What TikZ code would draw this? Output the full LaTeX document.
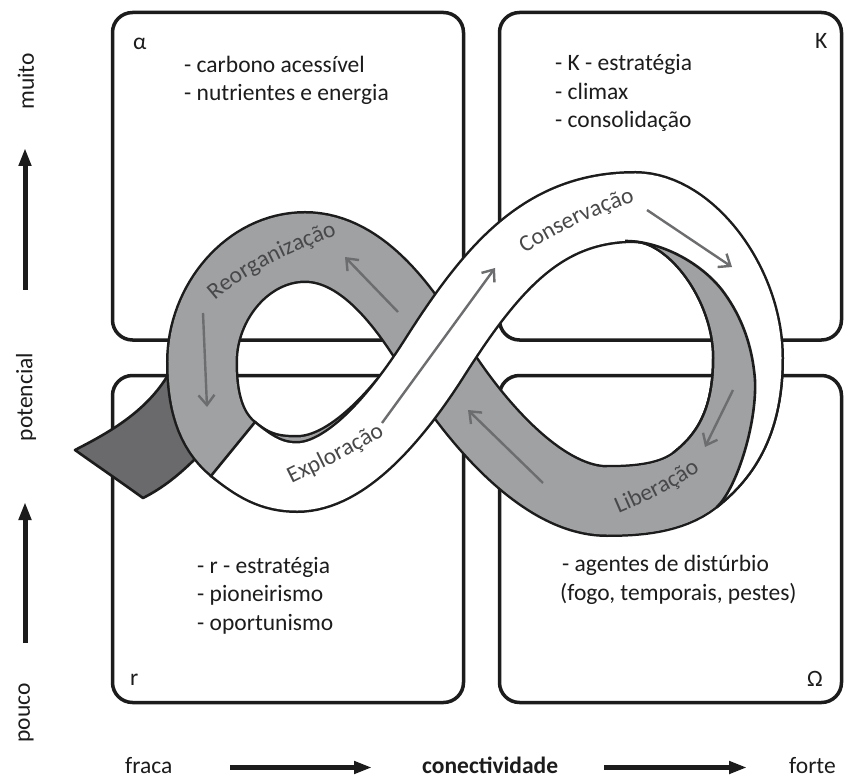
\documentclass[tikz,border=0pt]{standalone}
\usepackage{fontspec}
\setmainfont{Carlito}
\usetikzlibrary{arrows.meta,decorations.text}
\definecolor{inkblack}{RGB}{28,28,28}
\definecolor{bandgray}{RGB}{160,161,163}
\definecolor{tailgray}{RGB}{106,106,108}
\definecolor{arrowgray}{RGB}{108,109,111}
\definecolor{bandtext}{RGB}{72,72,74}
\newcommand\txtfont{\fontsize{23.5}{28}\selectfont}
\newcommand\bandfont{\fontsize{23.5}{28}\selectfont}
% band centre lines
\def\Gpath{(748,358) .. controls (748,420) and (727,455) .. (695,480) .. controls (671.4,498.5) and (637,501) .. (607,501) .. controls (537,501) and (466,408) .. (435,357) .. controls (409,314) and (365,247) .. (305,247) .. controls (248,247) and (202,302) .. (202,362) .. controls (202,400) and (209.8,430) .. (233,449) .. controls (255,467) and (272,471) .. (297,471) .. controls (343,471) and (385,425) .. (410,394)}
\def\Wpath{(233,449) .. controls (255,467) and (272,477) .. (297,477) .. controls (345,477) and (395,420) .. (435,357) .. controls (494,264.2) and (545,207) .. (635,207) .. controls (690,207) and (748,283) .. (748,358) .. controls (748,420) and (727,455) .. (695,480)}
\def\CpathA{(635,207) .. controls (690,207) and (748,283) .. (748,358) .. controls (748,420) and (727,455) .. (695,480)}
\def\CpathB{(635,207) .. controls (690,207) and (748,283) .. (748,358) .. controls (748,420) and (727,455) .. (695,480) .. controls (671.4,498.5) and (637,501) .. (607,501)}
\def\QEpath{(625,241) .. controls (660,241) and (700,262) .. (722,290) .. controls (738,311) and (752,340) .. (755,380) .. controls (757,425) and (736,490) .. (716.4,507.4)}
\begin{document}
\begin{tikzpicture}[x=1pt,y=-1pt,
  boxline/.style={draw=inkblack, line width=3.5pt, rounded corners=20pt},
  bandedge/.style={draw=inkblack, line width=72pt},
  bandfillgray/.style={draw=bandgray, line width=67pt},
  bandfillwhite/.style={draw=white, line width=67pt},
  thinedge/.style={draw=inkblack, line width=2.6pt},
  flowarrow/.style={draw=arrowgray, line width=2.4pt, -{Straight Barb[length=10pt,width=16pt]}},
  axisarrow/.style={draw=inkblack, line width=5pt, -{Triangle[length=18pt,width=12pt]}},
  lbl/.style={anchor=base west, inner sep=0pt, font=\txtfont, text=inkblack},
  axislbl/.style={inner sep=0pt, font=\txtfont, text=inkblack},
  bandlabel/.style={decorate, decoration={text along path, text align=center, text color=bandtext, text={#1}}}
]
\useasboundingbox (0,0) rectangle (844,778);
\fill[white] (0,0) rectangle (844,778);

% quadrant boxes
\draw[boxline] (112.5,12.5) rectangle (463.5,340);
\draw[boxline] (499.5,12.5) rectangle (841.5,340);
\draw[boxline] (112.5,375.5) rectangle (463.5,702.5);
\draw[boxline] (499.5,375.5) rectangle (841.5,702.5);

% dark tail
\filldraw[fill=tailgray, draw=inkblack, line width=2.6pt, line join=round]
  (75,450) .. controls (110,432) and (150,410) .. (172,368) -- (200,372) -- (212,445) -- (196,458)
  .. controls (180,474) and (163,488) .. (143,498) .. controls (118,480) and (96,465) .. (75,450) -- cycle;

% grey band (Liberacao / Reorganizacao)
\draw[bandedge] \Gpath;
\draw[bandfillgray] \Gpath;

% white band (Exploracao / Conservacao)
\draw[bandedge] \Wpath;
\draw[bandfillwhite] \Wpath;
\draw[thinedge] (255.8,421.1) -- (210.2,476.9);

% grey crescent inside the right loop
\begin{scope}
  \clip \QEpath -- (760,560) -- (600,560) -- (600,300) -- cycle;
  \draw[bandedge] \CpathA;
  \draw[bandfillgray] \CpathB;
\end{scope}
\draw[thinedge] \QEpath;

% flow arrows
\coordinate (a1s) at (398,312); \coordinate (a1e) at (345,257);
\coordinate (a2s) at (203,313); \coordinate (a2e) at (207,407);
\coordinate (a3s) at (382,423); \coordinate (a3e) at (495,268);
\coordinate (a4s) at (647,210); \coordinate (a4e) at (732,267);
\coordinate (a5s) at (733,390); \coordinate (a5e) at (705,447);
\coordinate (a6s) at (543,483); \coordinate (a6e) at (468,410);
\draw[flowarrow] (a1s) -- (a1e);
\draw[flowarrow] (a2s) -- (a2e);
\draw[flowarrow] (a3s) -- (a3e);
\draw[flowarrow] (a4s) -- (a4e);
\draw[flowarrow] (a5s) -- (a5e);
\draw[flowarrow] (a6s) -- (a6e);

% band labels
\path[bandlabel={|\bandfont|Reorganização}] (205,310) .. controls (240,273) and (295,250) .. (350,231);
\path[bandlabel={|\bandfont|Conservação}] (512,262) .. controls (545,238) and (600,210) .. (650,198);
\path[bandlabel={|\bandfont|Exploração}] (281,489) .. controls (308,475) and (353,455) .. (395,429);
\path[bandlabel={|\bandfont|Liberação}] (605,519) .. controls (635,507) and (680,487) .. (712,462);

% quadrant texts
\node[lbl] (alpha) at (133,50) {α};
\node[lbl] (kappa) at (815,48.5) {K};
\node[lbl] (rr) at (130,685) {r};
\node[lbl] (omega) at (807,686.7) {Ω};
\node[lbl] (c1) at (184,73) {- carbono acessível};
\node[lbl] (c2) at (184,101) {- nutrientes e energia};
\node[lbl] (k1) at (555,71) {- K - estratégia};
\node[lbl] (k2) at (555,99.5) {- climax};
\node[lbl] (k3) at (555,128) {- consolidação};
\node[lbl] (r1) at (197,573) {- r - estratégia};
\node[lbl] (r2) at (197,601.5) {- pioneirismo};
\node[lbl] (r3) at (197,630.5) {- oportunismo};
\node[lbl] (o1) at (562,571.5) {- agentes de distúrbio};
\node[lbl] (o2) at (560,600.5) {(fogo, temporais, pestes)};

% axes
\node[axislbl, rotate=90] (muito) at (26,81.5) {muito};
\node[axislbl, rotate=90] (potencial) at (26,397) {potencial};
\node[axislbl, rotate=90] (pouco) at (26,713) {pouco};
\coordinate (v1s) at (25,290); \coordinate (v1e) at (25,148);
\coordinate (v2s) at (25,643); \coordinate (v2e) at (25,502);
\draw[axisarrow] (v1s) -- (v1e);
\draw[axisarrow] (v2s) -- (v2e);
\node[lbl] (fraca) at (125,773) {fraca};
\node[lbl, font=\txtfont\bfseries] (conect) at (422,773) {conectividade};
\node[lbl] (forte) at (789,773) {forte};
\coordinate (h1s) at (230,767.5); \coordinate (h1e) at (372,767.5);
\coordinate (h2s) at (604,767.5); \coordinate (h2e) at (747,767.5);
\draw[axisarrow] (h1s) -- (h1e);
\draw[axisarrow] (h2s) -- (h2e);
\end{tikzpicture}
\end{document}
